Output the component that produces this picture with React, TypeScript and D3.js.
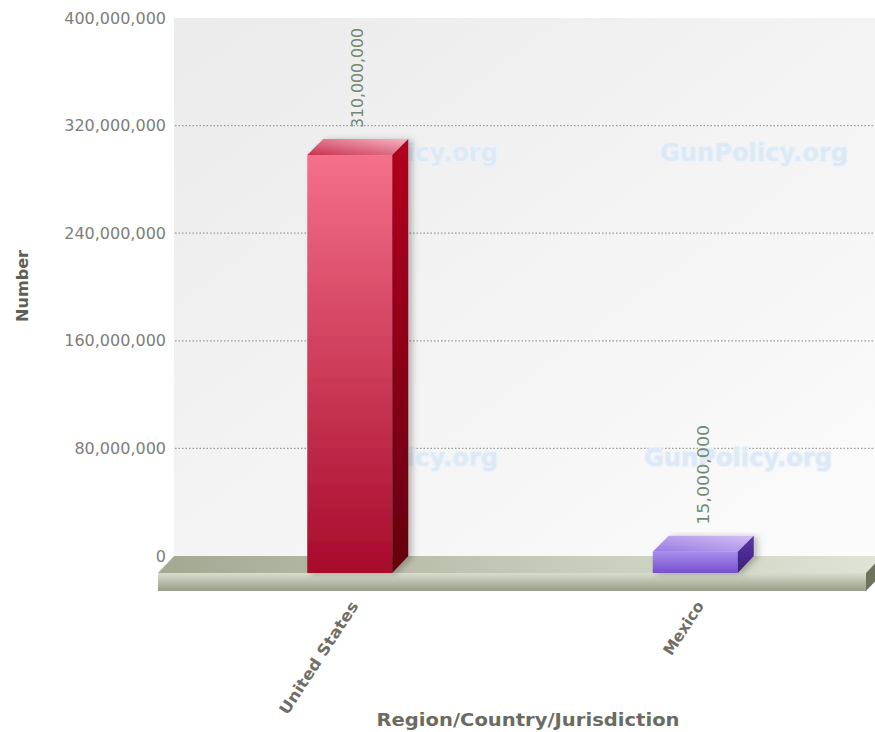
import React from "react";
import * as d3 from "d3";

const categories = ["United States", "Mexico"];
const values = [310000000, 15000000];
const yTicks = [0, 80000000, 160000000, 240000000, 320000000, 400000000];
const watermarkLabel = "GunPolicy.org";
const yTitle = "Number";
const xTitle = "Region/Country/Jurisdiction";

const W = 875;
const H = 732;
const DX = 16;
const DY = 17;
const WALL_LEFT = 174;
const WALL_RIGHT = 900;
const fmt = d3.format(",");
const FONT = "'DejaVu Sans', Verdana, sans-serif";

const barStyles = [
  { front: ["#f4708a", "#a70a2b"], top: ["#c9304f", "#f6b3c2"], side: ["#b4001f", "#64000f"] },
  { front: ["#a88ded", "#7650cc"], top: ["#9a7ae0", "#d2c0f6"], side: ["#5a36a8", "#3b1f7a"] },
];

export default function App() {
  const y = d3.scaleLinear().domain([0, 400000000]).range([556, 18]);
  const x = d3.scalePoint<string>().domain(categories).range([177, 868]).padding(0.5);
  const bw = x.step() * 0.246;
  const floorTop = y(0);
  const floorFrontTop = floorTop + DY;
  const floorFrontBottom = floorFrontTop + 18;
  const floorLeft = WALL_LEFT - DX;
  const floorRight = 866;

  return (
    <svg width={W} height={H} style={{ position: "absolute", left: 0, top: 0, background: "#fff" }}>
      <defs>
        <linearGradient id="wall" x1="0" y1="0" x2="1" y2="1">
          <stop offset="0" stopColor="#ebebeb" />
          <stop offset="1" stopColor="#fcfcfc" />
        </linearGradient>
        <linearGradient id="floorTop" x1="0" y1="0" x2="1" y2="0">
          <stop offset="0" stopColor="#a3a893" />
          <stop offset="0.5" stopColor="#c4c8b6" />
          <stop offset="1" stopColor="#e0e4d7" />
        </linearGradient>
        <linearGradient id="floorFront" x1="0" y1="0" x2="0" y2="1">
          <stop offset="0" stopColor="#d9ddcc" />
          <stop offset="1" stopColor="#989d87" />
        </linearGradient>
        {barStyles.map((s, i) => (
          <React.Fragment key={i}>
            <linearGradient id={`bf${i}`} x1="0" y1="0" x2="0" y2="1">
              <stop offset="0" stopColor={s.front[0]} />
              <stop offset="1" stopColor={s.front[1]} />
            </linearGradient>
            <linearGradient id={`bt${i}`} x1="0" y1="1" x2="1" y2="0">
              <stop offset="0" stopColor={s.top[0]} />
              <stop offset="1" stopColor={s.top[1]} />
            </linearGradient>
            <linearGradient id={`bs${i}`} x1="0" y1="0" x2="0" y2="1">
              <stop offset="0" stopColor={s.side[0]} />
              <stop offset="1" stopColor={s.side[1]} />
            </linearGradient>
          </React.Fragment>
        ))}
        <filter id="shadow" x="-20%" y="-10%" width="150%" height="130%">
          <feDropShadow dx="4" dy="1" stdDeviation="3" floodColor="#000" floodOpacity="0.25" />
        </filter>
      </defs>

      {/* back wall */}
      <rect x={WALL_LEFT} y={y(400000000)} width={WALL_RIGHT - WALL_LEFT} height={floorTop - y(400000000)} fill="url(#wall)" />

      {/* gridlines */}
      {yTicks.filter((t) => t > 0 && t < 400000000).map((t) => (
        <line key={t} x1={WALL_LEFT + 1} x2={W} y1={y(t)} y2={y(t)} stroke="#9a9a9a" strokeWidth={1.2} strokeDasharray="1.5,2" />
      ))}

      {/* watermarks */}
      {[
        [404, 161],
        [754, 161],
        [404, 466],
        [738, 466],
      ].map(([cx, cy], i) => (
        <text
          key={i}
          x={cx}
          y={cy}
          textAnchor="middle"
          fontFamily={FONT}
          fontWeight="bold"
          fontSize={25}
          textLength={188}
          lengthAdjust="spacingAndGlyphs"
          fill="#dde9f5"
          stroke="#edf3fa"
          strokeWidth={2.5}
          paintOrder="stroke"
        >
          {watermarkLabel}
        </text>
      ))}

      {/* floor */}
      <polygon
        points={`${floorLeft},${floorFrontTop} ${WALL_LEFT},${floorTop} ${floorRight + DX},${floorTop} ${floorRight},${floorFrontTop}`}
        fill="url(#floorTop)"
      />
      <rect x={floorLeft} y={floorFrontTop} width={floorRight - floorLeft} height={floorFrontBottom - floorFrontTop} fill="url(#floorFront)" />
      <polygon
        points={`${floorRight},${floorFrontTop} ${floorRight + DX},${floorTop} ${floorRight + DX},${floorFrontBottom - DY} ${floorRight},${floorFrontBottom}`}
        fill="#6e735f"
      />

      {/* bars */}
      {categories.map((c, i) => {
        const cx = x(c) as number;
        const x0 = cx - bw / 2;
        const x1 = cx + bw / 2;
        const topBack = y(values[i]);
        const topFront = topBack + DY - 1;
        const bottom = floorFrontTop;
        const labelLen = c.length * 10.1;
        return (
          <g key={c}>
            <g filter="url(#shadow)">
              <rect x={x0} y={topFront} width={bw} height={bottom - topFront} fill={`url(#bf${i})`} />
              <polygon
                points={`${x0},${topFront} ${x0 + DX},${topBack} ${x1 + DX},${topBack} ${x1},${topFront}`}
                fill={`url(#bt${i})`}
              />
              <polygon
                points={`${x1},${topFront} ${x1 + DX},${topBack} ${x1 + DX},${bottom - DY} ${x1},${bottom}`}
                fill={`url(#bs${i})`}
              />
            </g>
            <text
              transform={`translate(${cx + DX / 2},${topBack - 11}) rotate(-90)`}
              dominantBaseline="central"
              fontFamily={FONT}
              fontSize={16}
              textLength={100}
              lengthAdjust="spacingAndGlyphs"
              fill="#768870"
            >
              {fmt(values[i])}
            </text>
            <text
              transform={`translate(${cx + 5},${floorFrontBottom + 12}) rotate(-57)`}
              textAnchor="end"
              dominantBaseline="central"
              fontFamily={FONT}
              fontWeight="bold"
              fontSize={15.5}
              textLength={labelLen}
              lengthAdjust="spacingAndGlyphs"
              fill="#6f6f68"
            >
              {c}
            </text>
          </g>
        );
      })}

      {/* y tick labels */}
      {yTicks.map((t) => (
        <text
          key={t}
          x={166}
          y={y(t)}
          textAnchor="end"
          dominantBaseline="central"
          fontFamily={FONT}
          fontSize={16}
          fill="#7e7e78"
        >
          {fmt(t)}
        </text>
      ))}

      {/* axis titles */}
      <text
        transform="translate(23,286) rotate(-90)"
        textAnchor="middle"
        dominantBaseline="central"
        fontFamily={FONT}
        fontWeight="bold"
        fontSize={15}
        textLength={72}
        lengthAdjust="spacingAndGlyphs"
        fill="#5f5f55"
      >
        {yTitle}
      </text>
      <text
        x={528}
        y={726}
        textAnchor="middle"
        fontFamily={FONT}
        fontWeight="bold"
        fontSize={17}
        textLength={303}
        lengthAdjust="spacingAndGlyphs"
        fill="#6b6b62"
      >
        {xTitle}
      </text>
    </svg>
  );
}
